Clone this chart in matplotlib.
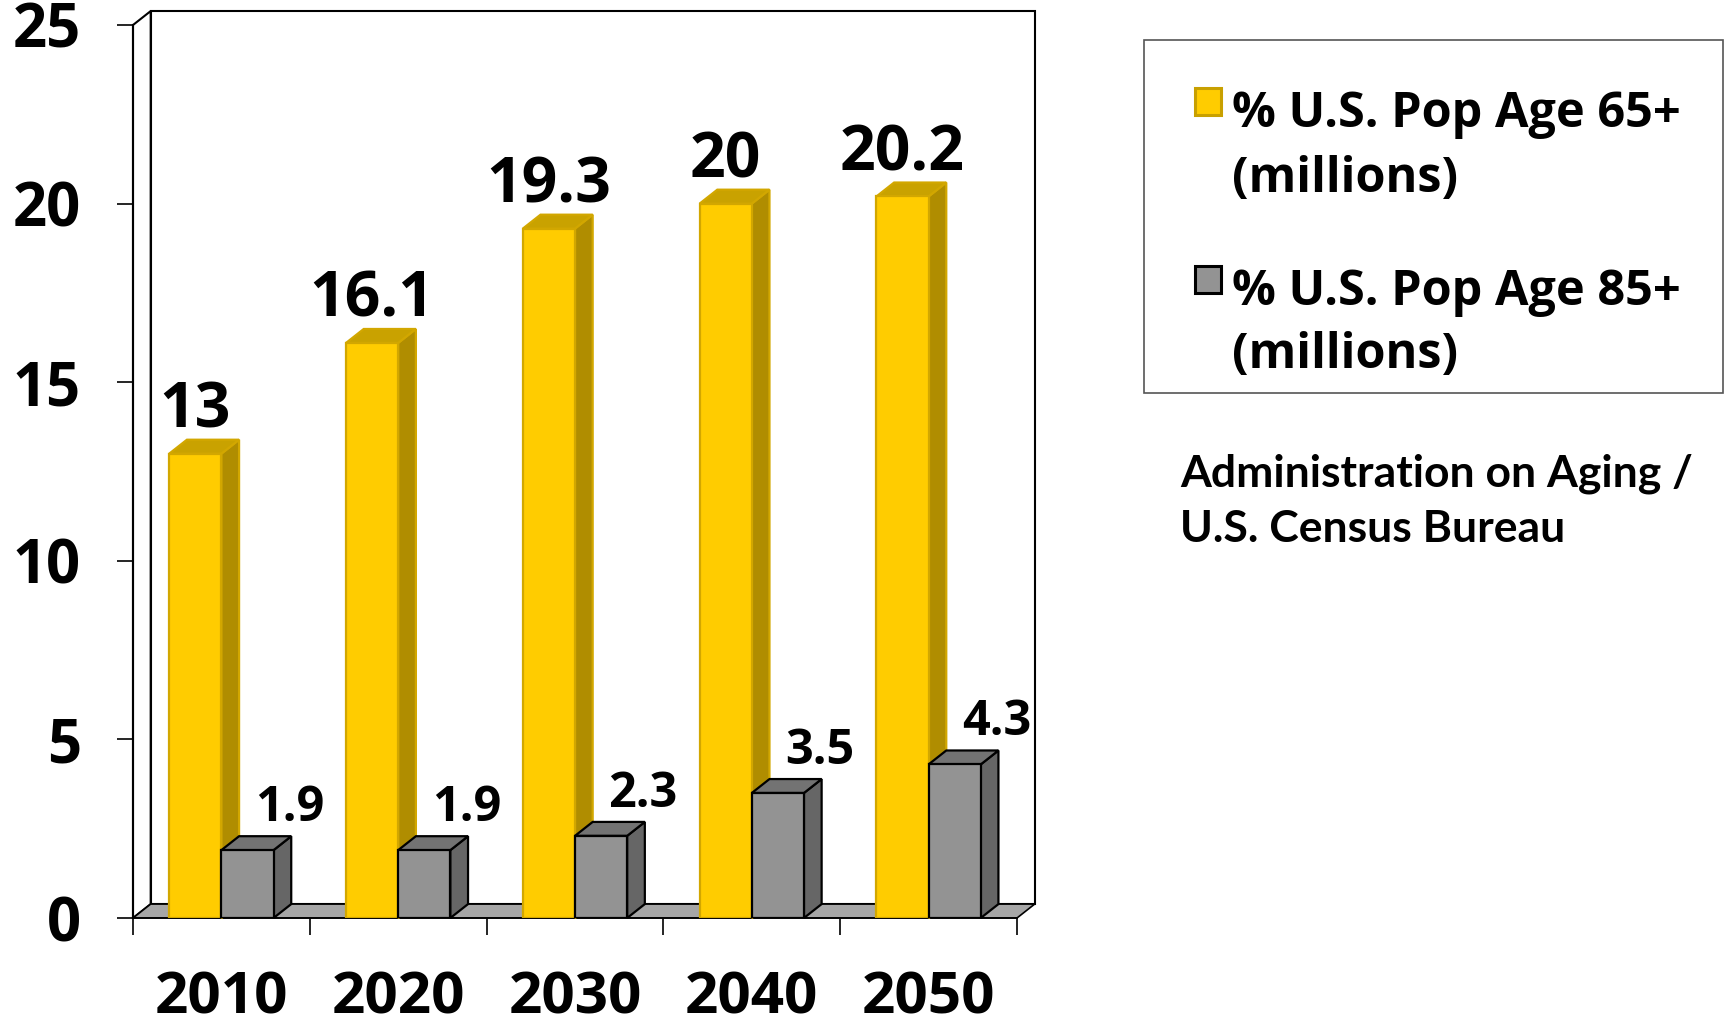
import matplotlib
matplotlib.use("Agg")

import matplotlib.pyplot as plt
from matplotlib.patches import Polygon, Rectangle

# data
years = ["2010", "2020", "2030", "2040", "2050"]
pop_65 = [13, 16.1, 19.3, 20, 20.2]
pop_85 = [1.9, 1.9, 2.3, 3.5, 4.3]
labels_65 = ["13", "16.1", "19.3", "20", "20.2"]
labels_85 = ["1.9", "1.9", "2.3", "3.5", "4.3"]
legend_labels = [["% U.S. Pop Age 65+", "(millions)"], ["% U.S. Pop Age 85+", "(millions)"]]
source_lines = ["Administration on Aging /", "U.S. Census Bureau"]

W_PX, H_PX = 1725, 1026
FONT = "Open Sans"

YEL = dict(front="#FFCC00", edge="#D2A700", side="#B08D00", top="#C9A200")
GRY = dict(front="#939393", edge="#000000", side="#666666", top="#737373")

DX, DY = 0.1, 0.39   # fake depth, in data units
BW = 0.295


def fx(px):
    return px / W_PX


def fy(py):
    return 1 - py / H_PX


def draw_bar(ax, x, v, col, z):
    ax.bar(x, v, width=BW, align="edge", color=col["front"], edgecolor=col["edge"],
           linewidth=1.6, zorder=z + 0.2)
    side = [(x + BW, 0), (x + BW + DX, DY), (x + BW + DX, v + DY), (x + BW, v)]
    top = [(x, v), (x + DX, v + DY), (x + BW + DX, v + DY), (x + BW, v)]
    ax.add_patch(Polygon(side, closed=True, facecolor=col["side"], edgecolor=col["edge"],
                         linewidth=1.6, zorder=z, clip_on=False))
    ax.add_patch(Polygon(top, closed=True, facecolor=col["top"], edgecolor=col["edge"],
                         linewidth=1.6, zorder=z + 0.1, clip_on=False))


fig = plt.figure(figsize=(W_PX / 100, H_PX / 100), dpi=100)
ax = fig.add_axes([fx(133), fy(918), fx(1017) - fx(133), fy(25) - fy(918)])
ax.set_xlim(-0.5, 4.5)
ax.set_ylim(0, 25)
ax.patch.set_visible(False)

# walls and floor
ax.add_patch(Rectangle((-0.5 + DX, DY), 5, 25, facecolor="white", edgecolor="black",
                       linewidth=1.5, zorder=0.2, clip_on=False))
ax.add_patch(Polygon([(-0.5, 0), (-0.5, 25), (-0.5 + DX, 25 + DY), (-0.5 + DX, DY)],
                     closed=True, facecolor="white", edgecolor="black", linewidth=1.5,
                     zorder=0.3, clip_on=False))
ax.add_patch(Polygon([(-0.5, 0), (4.5, 0), (4.5 + DX, DY), (-0.5 + DX, DY)],
                     closed=True, facecolor="#A6A6A6", edgecolor="black", linewidth=1.2,
                     zorder=0.4, clip_on=False))

for i, (a, b) in enumerate(zip(pop_65, pop_85)):
    draw_bar(ax, i - BW, a, YEL, 2)
    draw_bar(ax, i, b, GRY, 3)
    ax.annotate(labels_65[i], (i - BW / 2, a + DY), xytext=(0, 9),
                textcoords="offset points", ha="center", va="baseline",
                fontsize=45, fontweight="bold", family=FONT, zorder=5)
    ax.annotate(labels_85[i], (i + BW + DX - 0.01, b + DY), xytext=(0, 11),
                textcoords="offset points", ha="center", va="baseline",
                fontsize=35, fontweight="bold", family=FONT, zorder=5,
                annotation_clip=False)

for s in ["top", "right"]:
    ax.spines[s].set_visible(False)
ax.spines["left"].set_linewidth(1.5)
ax.spines["bottom"].set_linewidth(1.2)
ax.spines["left"].set_zorder(0.5)
ax.spines["bottom"].set_zorder(0.5)

ax.set_yticks(range(0, 26, 5))
ax.tick_params(axis="y", length=11.5, width=1.2, pad=26, labelsize=43)
ax.set_xticks([i - 0.5 for i in range(6)])
ax.set_xticklabels([])
ax.set_xticks(range(len(years)), minor=True)
ax.set_xticklabels(years, minor=True)
ax.tick_params(axis="x", which="major", length=12, width=1.2)
ax.tick_params(axis="x", which="minor", length=0, pad=37, labelsize=42)
for t in ax.get_yticklabels() + ax.get_xticklabels(minor=True):
    t.set_fontweight("bold")
    t.set_family(FONT)

# legend box drawn by hand to keep the marker on the first text line
fig.patches.append(Rectangle((fx(1144), fy(393)), fx(1723) - fx(1144), fy(40) - fy(393),
                             transform=fig.transFigure, facecolor="white",
                             edgecolor="#555555", linewidth=1.2))
markers = [(88, YEL["front"], "#C8A000"), (266, GRY["front"], "black")]
baselines = [(127, 192), (305, 368)]
for (mt, fc, ec), lines, bls in zip(markers, legend_labels, baselines):
    fig.patches.append(Rectangle((fx(1195), fy(mt + 27)), fx(1221) - fx(1195), fy(mt) - fy(mt + 27),
                                 transform=fig.transFigure, facecolor=fc,
                                 edgecolor=ec, linewidth=2.2))
    for line, bl in zip(lines, bls):
        fig.text(fx(1232), fy(bl), line, ha="left", va="baseline", fontsize=35,
                 fontweight="bold", family=FONT)

for line, bl in zip(source_lines, [487, 542]):
    fig.text(fx(1180), fy(bl), line, ha="left", va="baseline", fontsize=32,
             fontweight="bold", family="Lato")

fig.savefig("out.png", dpi=100)
plt.close(fig)
